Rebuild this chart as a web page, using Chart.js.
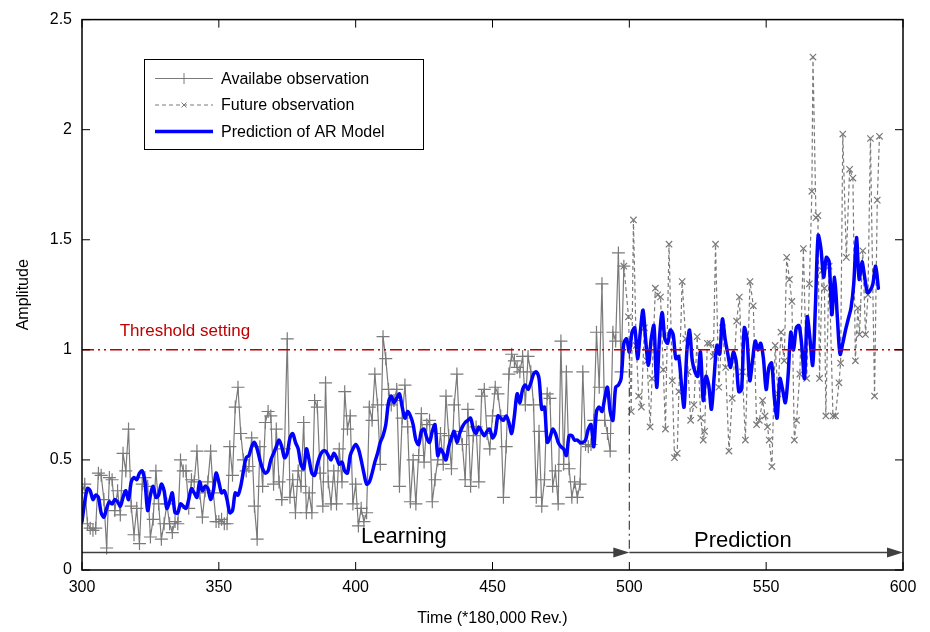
<!DOCTYPE html>
<html>
<head>
<meta charset="utf-8">
<title>AR model prediction</title>
<script src="https://cdn.jsdelivr.net/npm/chart.js@4.4.0/dist/chart.umd.min.js"></script>
<style>
  html, body { margin: 0; padding: 0; background: #fff; }
  #chart { display: block; }
</style>
</head>
<body>
<canvas id="chart" width="930" height="632"></canvas>
<script>
// Available observation, one sample per step starting at obsStart
const obsStart = 300;
const obsValues = [
  0.35, 0.39, 0.21, 0.19, 0.18, 0.19, 0.44, 0.43, 0.32, 0.10,
  0.42, 0.41, 0.27, 0.36, 0.25, 0.53, 0.45, 0.64, 0.29, 0.16,
  0.28, 0.12, 0.39, 0.42, 0.38, 0.15, 0.23, 0.45, 0.30, 0.14,
  0.21, 0.30, 0.21, 0.17, 0.22, 0.21, 0.50, 0.45, 0.45, 0.28,
  0.41, 0.40, 0.54, 0.35, 0.24, 0.36, 0.40, 0.54, 0.35, 0.22,
  0.22, 0.23, 0.21, 0.21, 0.56, 0.43, 0.74, 0.83, 0.62, 0.50,
  0.45, 0.47, 0.60, 0.29, 0.14, 0.56, 0.38, 0.67, 0.72, 0.70,
  0.39, 0.64, 0.40, 0.32, 0.55, 1.05, 0.33, 0.41, 0.26, 0.45,
  0.38, 0.67, 0.26, 0.35, 0.26, 0.77, 0.74, 0.44, 0.29, 0.85,
  0.40, 0.30, 0.45, 0.30, 0.55, 0.40, 0.81, 0.64, 0.70, 0.30,
  0.39, 0.20, 0.28, 0.22, 0.26, 0.74, 0.68, 0.89, 0.75, 0.48,
  1.06, 0.96, 0.82, 0.75, 0.77, 0.82, 0.38, 0.69, 0.84, 0.65,
  0.31, 0.50, 0.30, 0.52, 0.71, 0.49, 0.66, 0.68, 0.31, 0.41,
  0.50, 0.62, 0.48, 0.79, 0.61, 0.46, 0.75, 0.89, 0.63, 0.57,
  0.41, 0.73, 0.38, 0.61, 0.65, 0.40, 0.79, 0.82, 0.62, 0.55,
  0.70, 0.83, 0.80, 0.70, 0.33, 0.56, 0.89, 0.98, 0.95, 0.92,
  0.90, 0.97, 0.75, 0.97, 0.90, 0.75, 0.33, 0.63, 0.29, 0.41,
  0.80, 0.78, 0.38, 0.45, 0.30, 1.04, 0.48, 0.90, 0.46, 0.33,
  0.40, 0.33, 0.39, 0.90, 0.57, 0.56, 0.57, 0.68, 1.08, 0.83,
  1.30, 0.68, 0.62, 0.54, 1.08, 1.04, 1.44, 0.90, 1.38
];

// Future observation, sampled positions and amplitudes
const futureX = [
  498, 499.7, 500.7, 501.5, 502.5, 503.4, 504.4, 505.5, 506.5, 507.6,
  508.3, 509.5, 510.4, 511.4, 512.4, 513.2, 514.5, 515.7, 516.5, 517.5,
  518.1, 519.3, 520.6, 521.5, 522.4, 523.6, 524.8, 526.1, 527.0, 527.5,
  528.5, 529.5, 530.7, 531.5, 532.7, 534.0, 535.2, 536.4, 537.6, 539.2,
  540.2, 541.3, 542.4, 544.1, 545.3, 546.5, 547.5, 548.7, 549.6, 550.5,
  551.1, 552.1, 553.3, 554.3, 555.4, 556.6, 557.5, 558.5, 559.4, 560.3,
  561.1, 562.3, 563.6, 564.8, 565.8, 566.7, 567.1, 568.2, 568.9, 569.5,
  570.5, 571.3, 571.8, 573.0, 574.4, 575.3, 576.6, 577.2, 578.0, 579.3,
  580.5, 581.7, 582.6, 583.5, 584.1, 585.3, 586.3, 587.2, 588.1, 589.6,
  590.6, 591.4
];
const futureY = [
  1.38, 1.15, 0.72, 1.59, 1.02, 0.79, 0.74, 1.10, 0.95, 0.65,
  0.87, 1.28, 1.25, 1.24, 0.91, 0.64, 1.48, 0.86, 0.51, 0.53,
  0.81, 1.31, 1.05, 0.90, 0.68, 0.75, 1.06, 0.69, 0.59, 0.63,
  1.03, 1.03, 0.97, 1.48, 0.83, 1.10, 0.92, 0.54, 0.78, 1.13,
  1.24, 0.90, 0.59, 1.31, 1.20, 0.66, 0.68, 0.77, 0.70, 0.65,
  0.59, 0.47, 1.02, 0.80, 1.08, 0.95, 1.42, 1.32, 1.22, 0.59,
  0.68, 0.89, 1.46, 0.87, 1.30, 1.72, 2.33, 1.60, 1.61, 0.87,
  1.36, 1.28, 0.70, 1.38, 0.70, 0.70, 0.85, 0.94, 1.98, 1.42,
  1.82, 1.78, 0.95, 1.19, 1.07, 1.45, 1.07, 1.25, 1.96, 0.79,
  1.68, 1.97
];

// AR model output, one sample per step starting at predStart
const predStart = 300;
const predValues = [
  0.22, 0.31, 0.37, 0.36, 0.32, 0.34, 0.33, 0.26, 0.24, 0.28,
  0.31, 0.30, 0.32, 0.31, 0.29, 0.33, 0.36, 0.32, 0.40, 0.42,
  0.41, 0.44, 0.45, 0.40, 0.27, 0.34, 0.38, 0.33, 0.34, 0.39,
  0.36, 0.28, 0.31, 0.35, 0.26, 0.26, 0.30, 0.29, 0.28, 0.32,
  0.37, 0.35, 0.33, 0.40, 0.36, 0.38, 0.37, 0.32, 0.36, 0.44,
  0.40, 0.35, 0.36, 0.32, 0.26, 0.27, 0.35, 0.34, 0.38, 0.45,
  0.51, 0.52, 0.56, 0.58, 0.55, 0.50, 0.46, 0.44, 0.45, 0.50,
  0.53, 0.56, 0.59, 0.56, 0.51, 0.53, 0.60, 0.62, 0.58, 0.55,
  0.48, 0.46, 0.55, 0.50, 0.44, 0.43, 0.48, 0.52, 0.54, 0.54,
  0.52, 0.50, 0.53, 0.51, 0.48, 0.49, 0.45, 0.44, 0.52, 0.55,
  0.57, 0.55, 0.50, 0.44, 0.39, 0.40, 0.44, 0.49, 0.53, 0.58,
  0.61, 0.66, 0.76, 0.79, 0.76, 0.78, 0.80, 0.74, 0.69, 0.72,
  0.70, 0.66, 0.59, 0.57, 0.63, 0.64, 0.60, 0.58, 0.63, 0.66,
  0.52, 0.55, 0.53, 0.50, 0.56, 0.60, 0.63, 0.58, 0.62, 0.65,
  0.67, 0.68, 0.69, 0.64, 0.62, 0.65, 0.63, 0.61, 0.63, 0.64,
  0.60, 0.62, 0.70, 0.69, 0.68, 0.70, 0.67, 0.62, 0.70, 0.80,
  0.76, 0.82, 0.84, 0.82, 0.85, 0.89, 0.90, 0.87, 0.73, 0.74,
  0.58, 0.60, 0.64, 0.62, 0.58, 0.56, 0.55, 0.52, 0.61, 0.61,
  0.59, 0.59, 0.58, 0.58, 0.59, 0.64, 0.66, 0.56, 0.72, 0.74,
  0.72, 0.78, 0.83, 0.72, 0.68, 0.83, 0.84, 0.87, 1.03, 1.05,
  0.99, 1.08, 1.10, 0.96, 1.08, 1.18, 1.04, 0.93, 1.05, 1.11,
  0.83, 1.05, 1.17, 1.05, 1.03, 1.09, 1.07, 0.96, 0.97, 0.85,
  0.74, 0.99, 1.09, 0.95, 0.90, 0.88, 0.99, 0.77, 0.88, 0.84,
  0.73, 0.88, 1.02, 0.98, 1.14, 1.05, 0.98, 0.92, 0.99, 0.95,
  0.81, 0.82, 1.10, 1.05, 0.86, 0.95, 1.04, 1.00, 1.03, 0.96,
  0.82, 0.92, 0.94, 0.78, 0.69, 0.87, 0.82, 0.76, 0.88, 1.08,
  1.00, 1.10, 1.11, 1.02, 0.87, 1.15, 1.05, 0.93, 1.20, 1.52,
  1.46, 1.33, 1.42, 1.40, 1.16, 1.33, 1.15, 0.98, 1.03, 1.09,
  1.14, 1.19, 1.30, 1.51, 1.32, 1.40, 1.33, 1.26, 1.27, 1.30,
  1.38, 1.28
];

const xTicks = [300, 350, 400, 450, 500, 550, 600];
const yTicks = [0, 0.5, 1, 1.5, 2, 2.5];
const threshold = 1;
const splitAt = 500;

const GRAY = '#7a7a7a';
const BLUE = '#0000ff';
const DARK_RED = '#c00000';
const FONT = '"Liberation Sans", Arial, sans-serif';

Chart.defaults.font.family = FONT;
Chart.defaults.font.size = 16;
Chart.defaults.color = '#000';

function arrow(ctx, x0, x1, y) {
  ctx.beginPath();
  ctx.moveTo(x0, y);
  ctx.lineTo(x1 - 12, y);
  ctx.stroke();
  ctx.beginPath();
  ctx.moveTo(x1, y);
  ctx.lineTo(x1 - 16, y - 5);
  ctx.lineTo(x1 - 16, y + 5);
  ctx.closePath();
  ctx.fill();
}

// Threshold line, learning/prediction split and their captions
const annotations = {
  id: 'annotations',
  afterDatasetsDraw(chart) {
    const { ctx, chartArea: a, scales: { x, y } } = chart;
    const ty = y.getPixelForValue(threshold);
    const sx = x.getPixelForValue(splitAt);
    const ay = y.getPixelForValue(0.08);
    ctx.save();

    ctx.strokeStyle = DARK_RED;
    ctx.lineWidth = 1.5;
    ctx.setLineDash([12, 4, 2, 4, 2, 4]);
    ctx.beginPath();
    ctx.moveTo(a.left, ty);
    ctx.lineTo(a.right, ty);
    ctx.stroke();

    ctx.strokeStyle = '#444';
    ctx.lineWidth = 1.2;
    ctx.setLineDash([9, 4, 2, 4]);
    ctx.beginPath();
    ctx.moveTo(sx, ty);
    ctx.lineTo(sx, ay);
    ctx.stroke();

    ctx.setLineDash([]);
    ctx.strokeStyle = '#404040';
    ctx.fillStyle = '#404040';
    ctx.lineWidth = 1.5;
    arrow(ctx, a.left, sx, ay);
    arrow(ctx, sx, a.right, ay);

    ctx.textAlign = 'center';
    ctx.textBaseline = 'middle';
    ctx.fillStyle = DARK_RED;
    ctx.font = '17px ' + FONT;
    ctx.fillText('Threshold setting', x.getPixelForValue(337.6), y.getPixelForValue(1.085));

    ctx.fillStyle = '#000';
    ctx.font = '22px ' + FONT;
    ctx.fillText('Learning', x.getPixelForValue(417.6), y.getPixelForValue(0.15));
    ctx.fillText('Prediction', x.getPixelForValue(541.5), y.getPixelForValue(0.13));
    ctx.restore();
  },
  afterDraw(chart) {
    const { ctx, chartArea: a, scales: { x, y } } = chart;
    ctx.save();

    // axes box with inward ticks on all sides
    ctx.strokeStyle = '#000';
    ctx.lineWidth = 1.5;
    ctx.strokeRect(a.left, a.top, a.right - a.left, a.bottom - a.top);
    ctx.lineWidth = 1;
    ctx.beginPath();
    xTicks.forEach(v => {
      const px = x.getPixelForValue(v);
      ctx.moveTo(px, a.bottom); ctx.lineTo(px, a.bottom - 8);
      ctx.moveTo(px, a.top); ctx.lineTo(px, a.top + 8);
    });
    yTicks.forEach(v => {
      const py = y.getPixelForValue(v);
      ctx.moveTo(a.left, py); ctx.lineTo(a.left + 8, py);
      ctx.moveTo(a.right, py); ctx.lineTo(a.right - 8, py);
    });
    ctx.stroke();

    // legend
    const lx = 144, ly = 59, lw = 279, lh = 90;
    ctx.fillStyle = '#fff';
    ctx.fillRect(lx, ly, lw, lh);
    ctx.strokeStyle = '#000';
    ctx.lineWidth = 1;
    ctx.strokeRect(lx + 0.5, ly + 0.5, lw, lh);
    const rows = [19.5, 46, 72.5];
    chart.data.datasets.forEach((ds, i) => {
      const ry = ly + rows[i];
      ctx.strokeStyle = ds.borderColor;
      ctx.lineWidth = ds.borderWidth;
      ctx.setLineDash(ds.borderDash || []);
      ctx.beginPath();
      ctx.moveTo(lx + 11, ry);
      ctx.lineTo(lx + 69, ry);
      ctx.stroke();
      ctx.setLineDash([]);
      if (ds.pointRadius > 0) {
        ctx.lineWidth = 1;
        Chart.helpers.drawPoint(ctx, {
          pointStyle: ds.pointStyle, radius: ds.pointRadius - 1, rotation: 0, borderWidth: 1
        }, lx + 40, ry);
      }
      ctx.fillStyle = '#000';
      ctx.font = '16px ' + FONT;
      ctx.textAlign = 'left';
      ctx.textBaseline = 'middle';
      ctx.fillText(ds.label, lx + 77, ry + 1);
    });
    ctx.restore();
  }
};

const obsPoints = obsValues.map((v, i) => ({ x: obsStart + i, y: v }));
const futurePoints = futureX.map((v, i) => ({ x: v, y: futureY[i] }));
const predPoints = predValues.map((v, i) => ({ x: predStart + i, y: v }));

new Chart(document.getElementById('chart'), {
  type: 'line',
  data: {
    datasets: [
      {
        label: 'Availabe observation',
        data: obsPoints,
        borderColor: GRAY,
        borderWidth: 1.2,
        pointStyle: 'cross',
        pointRadius: 6.5,
        pointBorderWidth: 1.2,
        pointBorderColor: GRAY,
        tension: 0,
        order: 2
      },
      {
        label: 'Future observation',
        data: futurePoints,
        borderColor: GRAY,
        borderWidth: 1.2,
        borderDash: [4, 3],
        pointStyle: 'crossRot',
        pointRadius: 4.5,
        pointBorderWidth: 1.2,
        pointBorderColor: GRAY,
        tension: 0,
        order: 1
      },
      {
        label: 'Prediction of AR Model',
        data: predPoints,
        borderColor: BLUE,
        borderWidth: 3.5,
        borderJoinStyle: 'round',
        borderCapStyle: 'round',
        pointRadius: 0,
        tension: 0.3,
        order: 0
      }
    ]
  },
  options: {
    responsive: false,
    animation: false,
    devicePixelRatio: 1,
    layout: { padding: { left: 0, right: 27, top: 16, bottom: 0 } },
    plugins: { legend: { display: false }, tooltip: { enabled: false } },
    scales: {
      x: {
        type: 'linear',
        min: 300,
        max: 600,
        grid: { display: false, drawTicks: false },
        border: { display: false },
        afterBuildTicks: s => { s.ticks = xTicks.map(v => ({ value: v })); },
        afterFit: s => { s.height = 62; },
        ticks: { padding: 8, color: '#000', font: { size: 16 } },
        title: { display: true, text: 'Time (*180,000 Rev.)', font: { size: 16 }, padding: { top: 0, bottom: 4 } }
      },
      y: {
        type: 'linear',
        min: 0,
        max: 2.5,
        grid: { display: false, drawTicks: false },
        border: { display: false },
        afterBuildTicks: s => { s.ticks = yTicks.map(v => ({ value: v })); },
        afterFit: s => { s.width = 82; },
        ticks: { padding: 10, color: '#000', font: { size: 16 }, callback: v => String(v) },
        title: { display: true, text: 'Amplitude', font: { size: 16 }, padding: { top: 14, bottom: 0 } }
      }
    }
  },
  plugins: [annotations]
});
</script>
</body>
</html>
